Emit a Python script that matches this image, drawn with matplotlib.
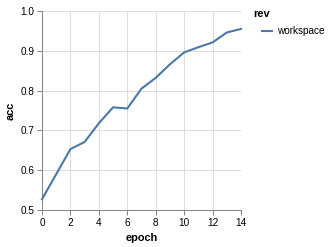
import matplotlib
matplotlib.use('Agg')
import matplotlib.pyplot as plt

epoch = list(range(15))
acc = [0.527, 0.590, 0.653, 0.671, 0.718, 0.758, 0.755, 0.805, 0.832,
       0.866, 0.896, 0.909, 0.921, 0.946, 0.955]
series_name = 'workspace'
legend_title = 'rev'

plt.rcParams['font.family'] = ['Liberation Sans', 'DejaVu Sans']

fig = plt.figure(figsize=(3.3, 2.47), dpi=100)
W, H = 330, 247
ax = fig.add_axes([42 / W, (H - 210) / H, 199 / W, 199 / H])

ax.plot(epoch, acc, color='#4c78a8', linewidth=1.5, solid_joinstyle='round',
        clip_on=False, zorder=3)

ax.set_xlim(0, 14)
ax.set_ylim(0.5, 1.0)
ax.set_xticks(range(0, 15, 2))
ax.set_yticks([0.5, 0.6, 0.7, 0.8, 0.9, 1.0])
ax.set_yticklabels(['0.5', '0.6', '0.7', '0.8', '0.9', '1.0'])

ax.grid(True, color='#dddddd', linewidth=0.75)
ax.set_axisbelow(True)
for side in ['top', 'right']:
    ax.spines[side].set_visible(False)
for side in ['left', 'bottom']:
    ax.spines[side].set_color('#888888')
    ax.spines[side].set_linewidth(0.75)
ax.tick_params(length=3.6, width=0.75, color='#888888', labelsize=7.2, pad=2,
               labelcolor='#000000')

ax.set_xlabel('epoch', fontsize=7.9, fontweight='bold', labelpad=3.5)
ax.set_ylabel('acc', fontsize=7.9, fontweight='bold', labelpad=3)

fig.text(253 / W, 1 - 14 / H, legend_title, fontsize=7.9, fontweight='bold',
         va='center', ha='left')
fig.add_artist(plt.Line2D([262 / W, 272 / W], [1 - 31 / H, 1 - 31 / H],
                          color='#4c78a8', linewidth=1.5))
fig.text(277 / W, 1 - 31 / H, series_name, fontsize=7.2, va='center', ha='left')

fig.savefig('out.png', dpi=100)
